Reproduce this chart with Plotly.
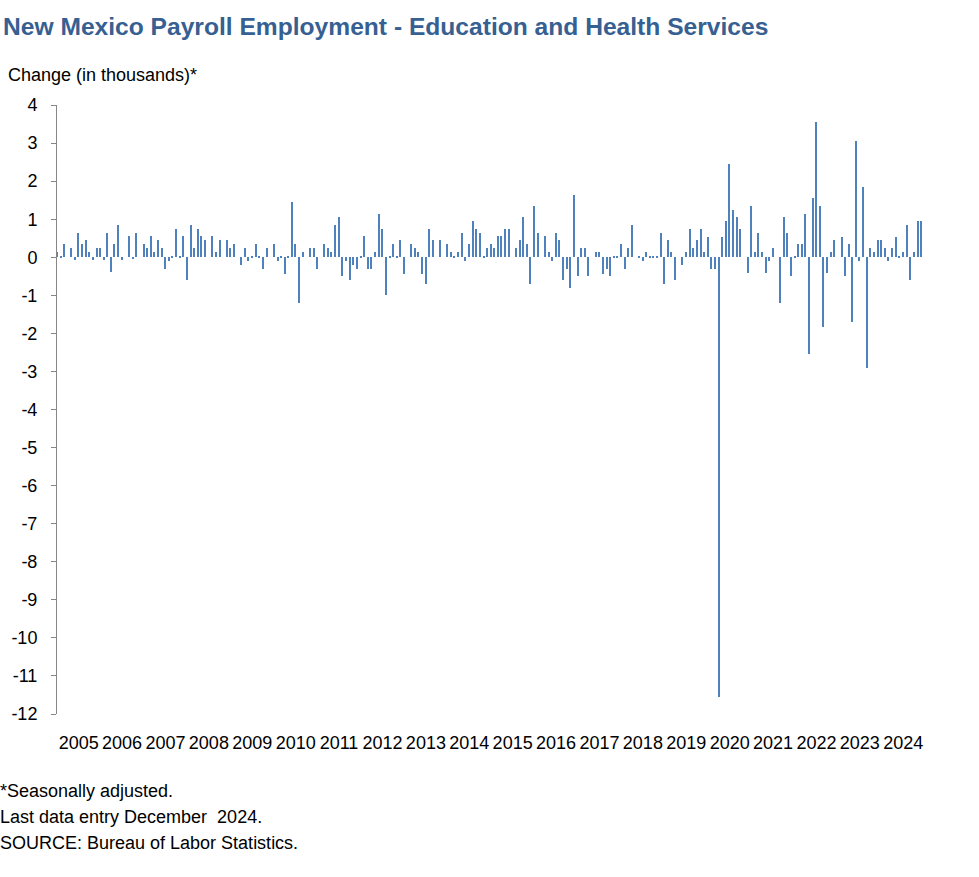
import pandas as pd
import plotly.graph_objects as go

# Monthly dates (Jan 2005 - Dec 2024)
months = pd.date_range("2005-01-01", "2024-12-01", freq="MS")

# Over-the-month change, thousands (seasonally adjusted)
monthly_change = [
    0.15, 0.02, 0.35, 0.00, 0.25, -0.08, 0.65, 0.35, 0.45, 0.15, -0.08, 0.25,   # 2005
    0.25, -0.08, 0.65, -0.40, 0.35, 0.85, -0.08, 0.00, 0.55, -0.05, 0.65, 0.00,  # 2006
    0.35, 0.25, 0.55, 0.15, 0.45, 0.25, -0.30, -0.10, 0.03, 0.75, 0.03, 0.55,    # 2007
    -0.60, 0.85, 0.25, 0.75, 0.55, 0.45, 0.00, 0.55, 0.15, 0.45, 0.00, 0.45,     # 2008
    0.25, 0.35, 0.00, -0.20, 0.25, -0.10, 0.03, 0.35, 0.03, -0.32, 0.25, 0.00,   # 2009
    0.35, -0.10, 0.03, -0.43, 0.03, 1.45, 0.35, -1.20, 0.13, 0.00, 0.25, 0.25,   # 2010
    -0.32, 0.00, 0.35, 0.25, 0.13, 0.85, 1.05, -0.50, -0.10, -0.60, -0.20, -0.32,  # 2011
    0.03, 0.55, -0.32, -0.32, 0.13, 1.13, 0.75, -1.00, 0.03, 0.35, 0.03, 0.45,   # 2012
    -0.43, 0.00, 0.35, 0.25, 0.13, -0.43, -0.70, 0.75, 0.45, 0.00, 0.45, 0.00,   # 2013
    0.35, 0.13, 0.03, 0.13, 0.65, -0.10, 0.35, 0.95, 0.75, 0.65, 0.03, 0.25,     # 2014
    0.35, 0.25, 0.55, 0.55, 0.75, 0.75, 0.00, 0.25, 0.45, 1.05, 0.35, -0.70,     # 2015
    1.35, 0.65, 0.00, 0.55, 0.13, -0.10, 0.65, 0.45, -0.60, -0.32, -0.80, 1.63,  # 2016
    -0.50, 0.25, 0.25, -0.50, 0.00, 0.13, 0.13, -0.43, -0.32, -0.50, 0.03, 0.03,  # 2017
    0.35, -0.32, 0.25, 0.85, 0.00, 0.03, -0.10, 0.13, 0.03, 0.03, 0.03, 0.63,    # 2018
    -0.70, 0.45, 0.13, -0.60, 0.00, -0.20, 0.13, 0.75, 0.25, 0.45, 0.75, 0.13,   # 2019
    0.53, -0.32, -0.32, -11.55, 0.53, 0.95, 2.45, 1.24, 1.05, 0.75, 0.00, -0.42,  # 2020
    1.34, 0.13, 0.63, 0.13, -0.42, -0.10, 0.25, 0.00, -1.20, 1.05, 0.63, -0.50,  # 2021
    0.03, 0.35, 0.35, 1.13, -2.53, 1.55, 3.55, 1.34, -1.82, -0.42, 0.13, 0.45,   # 2022
    0.00, 0.53, -0.50, 0.34, -1.71, 3.05, -0.10, 1.84, -2.92, 0.24, 0.13, 0.45,  # 2023
    0.45, 0.24, -0.10, 0.24, 0.53, 0.03, 0.13, 0.84, -0.60, 0.13, 0.95, 0.95,    # 2024
]

y_tick_values = list(range(-12, 5))
y_tick_labels = [str(v) for v in y_tick_values]   # plain hyphen minus, as in the source

title_text = "New Mexico Payroll Employment - Education and Health Services"
y_title = "Change (in thousands)*"
footnotes = ["*Seasonally adjusted.", "Last data entry December  2024.",
             "SOURCE: Bureau of Labor Statistics."]

FONT = "Liberation Sans"
AXIS = "#868686"
BAR = "#4F81BD"

W, H = 979, 877
L, R, T, B = 57, 54, 105, 163
pw, ph = W - L - R, H - T - B


def px_x(px):
    return (px - L) / pw


def px_y(py):
    return (H - B - py) / ph


fig = go.Figure()
fig.add_trace(go.Bar(
    x=months, y=monthly_change,
    marker=dict(color=BAR, line=dict(width=0)),
    width=0.95e9,
    hoverinfo="x+y",
))

x_range = ["2005-01-01", "2025-01-01"]

fig.update_layout(
    width=W, height=H,
    margin=dict(l=L, r=R, t=T, b=B, autoexpand=False),
    paper_bgcolor="white", plot_bgcolor="white",
    showlegend=False,
    bargap=0,
    font=dict(family=FONT, size=18, color="black"),
    xaxis=dict(
        type="date", range=x_range,
        tickmode="linear", tick0="2005-01-01", dtick="M12",
        ticklabelmode="period", tickformat="%Y",
        ticks="", showline=False, showgrid=False, zeroline=False,
        tickfont=dict(family=FONT, size=18, color="black"),
        ticklabelstandoff=16, automargin=False,
    ),
    xaxis2=dict(
        type="date", range=x_range, overlaying="x", anchor="free", position=0.75,
        tickmode="linear", tick0="2005-01-01", dtick="M12",
        ticks="outside", ticklen=7, tickcolor=AXIS, tickwidth=1,
        showline=True, linecolor=AXIS, linewidth=1,
        showticklabels=False, showgrid=False, zeroline=False, automargin=False,
    ),
    yaxis=dict(
        range=[-12, 4], tickmode="array", tickvals=y_tick_values, ticktext=y_tick_labels,
        ticks="outside", ticklen=5, tickcolor=AXIS,
        showline=True, linecolor=AXIS, linewidth=1,
        showgrid=False, zeroline=False,
        tickfont=dict(family=FONT, size=18, color="black"),
        ticklabelstandoff=10, automargin=False,
    ),
)

fig.add_annotation(text=title_text, xref="paper", yref="paper",
                   x=px_x(1), y=px_y(26), xanchor="left", yanchor="middle",
                   showarrow=False,
                   font=dict(family=FONT, size=24.6, color="#376092", weight="bold"))
fig.add_annotation(text=y_title, xref="paper", yref="paper",
                   x=px_x(6), y=px_y(75), xanchor="left", yanchor="middle",
                   showarrow=False, font=dict(family=FONT, size=18, color="black"))
for i, line in enumerate(footnotes):
    fig.add_annotation(text=line, xref="paper", yref="paper",
                       x=px_x(-2), y=px_y(791 + 26 * i), xanchor="left", yanchor="middle",
                       showarrow=False, font=dict(family=FONT, size=18, color="black"))

fig.write_html("out.html", config={"displayModeBar": False},
               post_script="document.body.style.margin='0';")
